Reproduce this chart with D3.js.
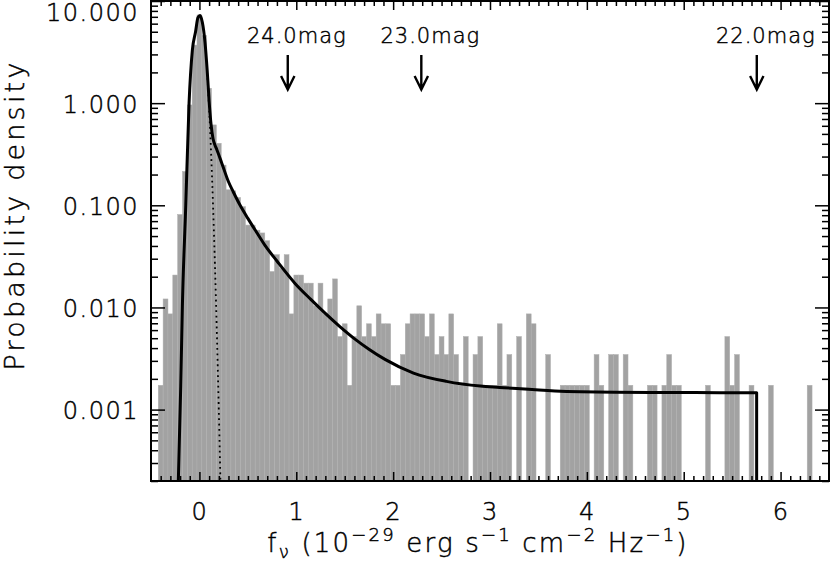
<!DOCTYPE html>
<html>
<head>
<meta charset="utf-8">
<script src="https://cdn.jsdelivr.net/npm/d3@7"></script>
<style>
body { margin: 0; background: #fff; }
svg { display: block; }
text { font-weight: 200; stroke: #000; stroke-width: 0.45px; }
</style>
</head>
<body>
<div id="chart"></div>
<script>
var width = 830, height = 564;
var fontFamily = "'DejaVu Sans', sans-serif";

// histogram of fluxes: counts per 0.05 bin, first bin centred at -0.40
var binStart = -0.40;
var binWidth = 0.05;
var nTotal = 11560;
var counts = [
    1, 7, 5, 12, 47, 124, 555, 2139, 4220, 2659,
    809, 354, 234, 143, 82, 80, 69, 56, 37, 37,
    33, 31, 26, 13, 19, 14, 19, 5, 12, 12,
    10, 10, 6, 10, 5, 7, 11, 3, 4, 1,
    3, 6, 3, 4, 3, 5, 4, 4, 1, 1,
    2, 4, 5, 5, 5, 3, 5, 2, 3, 2,
    5, 2, 1, 3, 0, 2, 3, 1, 1, 1,
    4, 1, 2, 0, 3, 0, 5, 4, 0, 0,
    2, 0, 0, 1, 1, 1, 1, 1, 1, 0,
    2, 1, 0, 2, 2, 0, 2, 1, 0, 0,
    0, 1, 1, 0, 1, 2, 1, 1, 0, 0,
    0, 0, 0, 1, 0, 0, 0, 3, 1, 2,
    0, 0, 1, 0, 0, 0, 1, 0, 0, 0,
    0, 0, 0, 0, 1
];

// model probability density (solid line)
var modelX = [-0.218, -0.193, -0.176, -0.141, -0.107, -0.073, -0.040, -0.015, 0.006, 0.030,
    0.058, 0.080, 0.100, 0.120, 0.140, 0.160, 0.180, 0.230, 0.300, 0.350,
    0.420, 0.500, 0.590, 0.677, 0.800, 0.987, 1.150, 1.297, 1.450, 1.606,
    1.750, 1.916, 2.210, 2.550, 2.900, 3.100, 3.670, 4.290, 5.000, 5.370,
    5.753, 5.753];
var modelY = [0.0002, 0.0017, 0.0103, 0.10, 1.0, 3.3, 5.0, 6.9, 7.2, 6.2,
    3.9, 2.1, 1.05, 0.62, 0.45, 0.39, 0.35, 0.26, 0.17, 0.135,
    0.100, 0.0745, 0.0545, 0.0405, 0.0285, 0.0172, 0.0120, 0.0088, 0.0065, 0.0049,
    0.0039, 0.0031, 0.00228, 0.00189, 0.00170, 0.00165, 0.00152, 0.00148, 0.00147, 0.00146,
    0.00146, 0.0002];

// gaussian noise component (dotted line)
var gaussX = [0.080, 0.090, 0.100, 0.120, 0.140, 0.160, 0.180, 0.200, 0.218];
var gaussY = [1.97, 1.36, 0.89, 0.333, 0.103, 0.0265, 0.0056, 0.0010, 0.00018];

// AB magnitudes marked with arrows
var magValues = [24.0, 23.0, 22.0];

var xTicks = [0, 1, 2, 3, 4, 5, 6];
var yTicks = [0.001, 0.01, 0.1, 1, 10];

var plot = { left: 151, right: 829, top: 1, bottom: 481 };

var x = d3.scaleLinear().domain([-0.5, 6.5]).range([plot.left, plot.right]);
var y = d3.scaleLog().domain([0.0002, 10]).range([plot.bottom, plot.top]);

var svg = d3.select("#chart").append("svg")
    .attr("width", width)
    .attr("height", height);

svg.append("defs").append("clipPath")
    .attr("id", "plotClip")
    .append("rect")
    .attr("x", plot.left)
    .attr("y", plot.top)
    .attr("width", plot.right - plot.left)
    .attr("height", plot.bottom - plot.top);

var bins = counts.map(function(c, i) {
    var centre = binStart + i * binWidth;
    return { x0: centre - binWidth / 2, x1: centre + binWidth / 2, density: c / (nTotal * binWidth) };
}).filter(function(d) { return d.density > 0; });

var chart = svg.append("g").attr("clip-path", "url(#plotClip)");

chart.append("g")
    .attr("class", "bars")
    .selectAll("rect")
    .data(bins)
    .enter().append("rect")
    .attr("x", function(d) { return x(d.x0); })
    .attr("width", function(d) { return x(d.x1) - x(d.x0); })
    .attr("y", function(d) { return y(d.density); })
    .attr("height", function(d) { return plot.bottom - y(d.density); })
    .attr("fill", "#a2a2a2")
    .attr("stroke", "#b0b0b0")
    .attr("stroke-width", 0.5);

var modelPts = modelX.map(function(v, i) { return [v, modelY[i]]; });
var gaussPts = gaussX.map(function(v, i) { return [v, gaussY[i]]; });

var smooth = d3.line()
    .x(function(d) { return x(d[0]); })
    .y(function(d) { return y(d[1]); })
    .curve(d3.curveMonotoneX);
var straight = d3.line()
    .x(function(d) { return x(d[0]); })
    .y(function(d) { return y(d[1]); });

chart.append("path")
    .attr("d", smooth(gaussPts))
    .attr("fill", "none")
    .attr("stroke", "#000")
    .attr("stroke-width", 1.8)
    .attr("stroke-dasharray", "1.8,3.6");

// smooth part, then the sharp cut-off
chart.append("path")
    .attr("d", smooth(modelPts.slice(0, -1)) + straight(modelPts.slice(-2)).replace("M", "L"))
    .attr("fill", "none")
    .attr("stroke", "#000")
    .attr("stroke-width", 3)
    .attr("stroke-linejoin", "round");

// minor tick positions
var xMinor = d3.range(-4, 65).map(function(i) { return i / 10; })
    .filter(function(v) { return Math.abs(v - Math.round(v)) > 1e-6; });
var yMinor = [];
[-4, -3, -2, -1, 0].forEach(function(k) {
    for (var m = 2; m <= 9; m++) yMinor.push(m * Math.pow(10, k));
});

function styleAxis(g, size) {
    g.select(".domain").remove();
    g.selectAll("line").attr("stroke", "#000").attr("stroke-width", 1.5);
    g.attr("font-family", fontFamily).attr("font-size", size);
    g.selectAll("text").attr("fill", "#000").attr("letter-spacing", "1.5px");
}

svg.append("g").attr("transform", "translate(0," + plot.bottom + ")")
    .call(d3.axisBottom(x).tickValues(xMinor).tickSize(-5).tickFormat(""))
    .call(styleAxis, 24);
svg.append("g").attr("transform", "translate(0," + plot.bottom + ")")
    .call(d3.axisBottom(x).tickValues(xTicks).tickSize(-9).tickPadding(22).tickFormat(d3.format("d")))
    .call(styleAxis, 24);
svg.append("g").attr("transform", "translate(0," + plot.top + ")")
    .call(d3.axisTop(x).tickValues(xMinor).tickSize(-5).tickFormat(""))
    .call(styleAxis, 24);
svg.append("g").attr("transform", "translate(0," + plot.top + ")")
    .call(d3.axisTop(x).tickValues(xTicks).tickSize(-9).tickFormat(""))
    .call(styleAxis, 24);

svg.append("g").attr("transform", "translate(" + plot.left + ",0)")
    .call(d3.axisLeft(y).tickValues(yMinor).tickSize(-7).tickFormat(""))
    .call(styleAxis, 24);
svg.append("g").attr("transform", "translate(" + plot.left + ",0)")
    .call(d3.axisLeft(y).tickValues(yTicks).tickSize(-14).tickPadding(12).tickFormat(d3.format(".3f")))
    .call(styleAxis, 24)
    .selectAll("text")
    .attr("dy", function(d) { return d === 10 ? "0.8em" : "0.38em"; });
svg.append("g").attr("transform", "translate(" + plot.right + ",0)")
    .call(d3.axisRight(y).tickValues(yMinor).tickSize(-7).tickFormat(""))
    .call(styleAxis, 24);
svg.append("g").attr("transform", "translate(" + plot.right + ",0)")
    .call(d3.axisRight(y).tickValues(yTicks).tickSize(-14).tickFormat(""))
    .call(styleAxis, 24);

svg.append("rect")
    .attr("x", plot.left)
    .attr("y", plot.top)
    .attr("width", plot.right - plot.left)
    .attr("height", plot.bottom - plot.top)
    .attr("fill", "none")
    .attr("stroke", "#000")
    .attr("stroke-width", 2);

// magnitude arrows (AB system, flux in 1e-29 erg/s/cm2/Hz)
var marks = svg.append("g").attr("class", "mags")
    .selectAll("g")
    .data(magValues)
    .enter().append("g")
    .attr("transform", function(m) {
        return "translate(" + x(Math.pow(10, 29 - (m + 48.6) / 2.5)) + ",0)";
    });
marks.append("text")
    .attr("x", 9)
    .attr("y", 43)
    .attr("text-anchor", "middle")
    .attr("font-family", fontFamily)
    .attr("font-size", 21)
    .attr("letter-spacing", "1px")
    .text(function(m) { return m.toFixed(1) + "mag"; });
marks.append("path")
    .attr("d", "M0,55V89.5M-6.7,76L0,89.5L6.7,76")
    .attr("fill", "none")
    .attr("stroke", "#000")
    .attr("stroke-width", 2.4);

// axis titles
var xTitle = svg.append("text")
    .attr("x", (plot.left + plot.right) / 2 - 12)
    .attr("y", 552)
    .attr("text-anchor", "middle")
    .attr("font-family", fontFamily)
    .attr("font-size", 26)
    .attr("letter-spacing", "2.2px");
xTitle.append("tspan").text("f");
xTitle.append("tspan").attr("font-size", 18).attr("dy", 6).text("\u03bd");
xTitle.append("tspan").attr("dy", -6).text(" (10");
xTitle.append("tspan").attr("font-size", 18).attr("dy", -11).text("\u221229");
xTitle.append("tspan").attr("dy", 11).text(" erg s");
xTitle.append("tspan").attr("font-size", 18).attr("dy", -11).text("\u22121");
xTitle.append("tspan").attr("dy", 11).text(" cm");
xTitle.append("tspan").attr("font-size", 18).attr("dy", -11).text("\u22122");
xTitle.append("tspan").attr("dy", 11).text(" Hz");
xTitle.append("tspan").attr("font-size", 18).attr("dy", -11).text("\u22121");
xTitle.append("tspan").attr("dy", 11).text(")");

svg.append("text")
    .attr("transform", "translate(24,215)rotate(-90)")
    .attr("text-anchor", "middle")
    .attr("font-family", fontFamily)
    .attr("font-size", 27)
    .attr("letter-spacing", "3.2px")
    .text("Probability density");
</script>
</body>
</html>
